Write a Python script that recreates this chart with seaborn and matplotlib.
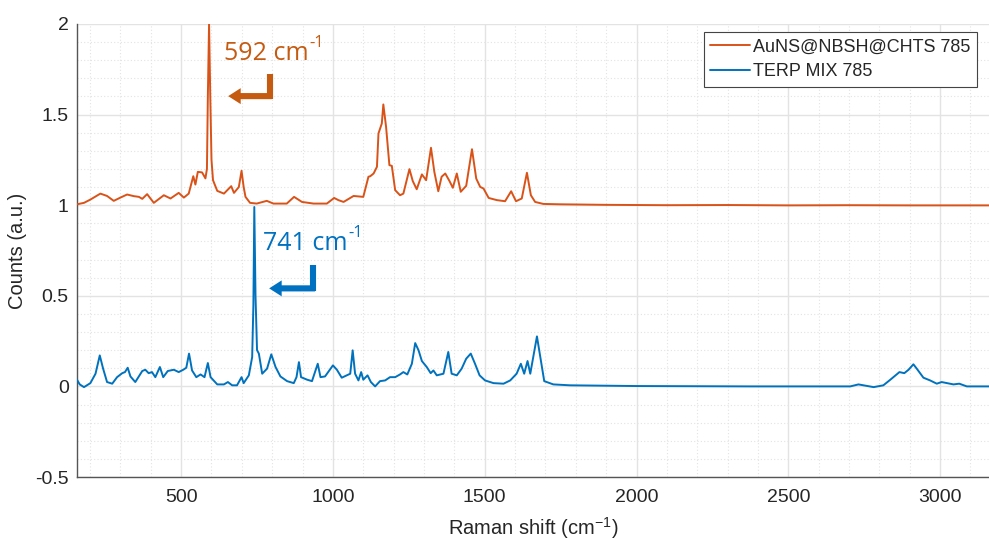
import matplotlib
matplotlib.use("Agg")
import matplotlib.pyplot as plt
from matplotlib.patches import FancyArrowPatch, ArrowStyle
from matplotlib.ticker import MultipleLocator
import seaborn as sns
import pandas as pd

# ---------------- data ----------------
aun_shift = [157, 180, 201, 234, 256, 278, 300, 322, 344, 361, 372, 388, 410, 443, 465,
             492, 509, 525, 540, 547, 555, 569, 580, 585, 588, 592, 596, 600, 605, 619,
             641, 665, 674, 690, 699, 706, 712, 727, 749, 782, 804, 848, 872, 898, 936,
             980, 1004, 1018, 1035, 1068, 1100, 1117, 1123, 1134, 1145, 1150, 1161, 1166,
             1175, 1186, 1194, 1205, 1221, 1232, 1252, 1263, 1276, 1293, 1307, 1323, 1334,
             1347, 1358, 1370, 1384, 1395, 1408, 1421, 1439, 1458, 1472, 1485, 1496, 1513,
             1540, 1567, 1587, 1603, 1622, 1639, 1652, 1666, 1693, 1748, 1900, 2100, 2300,
             2500, 2700, 2900, 3161]
aun_counts = [1.005, 1.013, 1.031, 1.064, 1.051, 1.024, 1.042, 1.059, 1.050, 1.046, 1.035,
              1.061, 1.013, 1.055, 1.037, 1.068, 1.042, 1.064, 1.160, 1.114, 1.184, 1.181,
              1.148, 1.200, 1.600, 2.000, 1.600, 1.250, 1.138, 1.079, 1.064, 1.105, 1.068,
              1.100, 1.190, 1.100, 1.046, 1.013, 1.009, 1.024, 1.009, 1.009, 1.046, 1.018,
              1.009, 1.009, 1.040, 1.028, 1.018, 1.051, 1.046, 1.157, 1.160, 1.175, 1.212,
              1.396, 1.451, 1.556, 1.433, 1.221, 1.217, 1.083, 1.055, 1.064, 1.199, 1.133,
              1.088, 1.170, 1.138, 1.317, 1.184, 1.077, 1.157, 1.175, 1.133, 1.096, 1.175,
              1.074, 1.107, 1.309, 1.147, 1.101, 1.092, 1.040, 1.028, 1.022, 1.077, 1.022,
              1.037, 1.179, 1.055, 1.018, 1.007, 1.005, 1.002, 1.000, 1.001, 0.999, 1.000,
              0.999, 0.999]

terp_shift = [157, 166, 180, 201, 218, 232, 243, 256, 273, 289, 306, 315, 324, 333, 349,
              372, 382, 393, 404, 415, 430, 441, 456, 476, 492, 507, 517, 526, 536, 550,
              564, 577, 588, 597, 619, 641, 654, 668, 684, 699, 706, 723, 734, 738, 741,
              745, 750, 756, 767, 783, 797, 811, 827, 849, 871, 880, 888, 895, 915, 931,
              950, 959, 974, 1000, 1013, 1029, 1046, 1057, 1065, 1073, 1084, 1093, 1100,
              1114, 1125, 1139, 1155, 1172, 1188, 1205, 1221, 1232, 1245, 1260, 1271, 1282,
              1293, 1309, 1322, 1331, 1342, 1364, 1380, 1391, 1408, 1424, 1439, 1454, 1468,
              1483, 1501, 1529, 1562, 1584, 1605, 1619, 1630, 1641, 1650, 1672, 1683, 1696,
              1726, 1781, 2000, 2374, 2704, 2731, 2781, 2813, 2836, 2866, 2882, 2896, 2912,
              2923, 2945, 2967, 2989, 3005, 3044, 3063, 3088, 3161]
terp_counts = [0.037, 0.011, -0.004, 0.018, 0.070, 0.171, 0.098, 0.024, 0.015, 0.051, 0.073,
               0.079, 0.103, 0.055, 0.024, 0.085, 0.092, 0.073, 0.079, 0.051, 0.107, 0.051,
               0.085, 0.092, 0.079, 0.092, 0.103, 0.181, 0.088, 0.051, 0.066, 0.051, 0.129,
               0.051, 0.011, 0.011, 0.024, 0.006, 0.006, 0.051, 0.018, 0.061, 0.162, 0.450,
               0.990, 0.500, 0.200, 0.181, 0.070, 0.098, 0.177, 0.107, 0.055, 0.029, 0.018,
               0.051, 0.134, 0.051, 0.037, 0.029, 0.125, 0.051, 0.055, 0.116, 0.092, 0.048,
               0.061, 0.070, 0.199, 0.070, 0.033, 0.079, 0.037, 0.061, 0.024, 0.000, 0.029,
               0.033, 0.051, 0.051, 0.066, 0.079, 0.066, 0.125, 0.239, 0.199, 0.140, 0.107,
               0.073, 0.088, 0.061, 0.070, 0.190, 0.070, 0.061, 0.098, 0.153, 0.181, 0.125,
               0.061, 0.033, 0.018, 0.015, 0.033, 0.070, 0.125, 0.070, 0.140, 0.070, 0.276,
               0.162, 0.029, 0.011, 0.006, 0.002, 0.000, 0.000, 0.011, -0.004, 0.006, 0.037,
               0.079, 0.073, 0.092, 0.122, 0.098, 0.048, 0.033, 0.015, 0.024, 0.011, 0.015,
               0.000, 0.000]

series_names = ["AuNS@NBSH@CHTS 785", "TERP MIX 785"]
line_colors = ["#D95319", "#0072BD"]
x_ticks = [500, 1000, 1500, 2000, 2500, 3000]
y_ticks = [-0.5, 0, 0.5, 1, 1.5, 2]
y_tick_labels = ["-0.5", "0", "0.5", "1", "1.5", "2"]

# ---------------- style ----------------
sns.set_style("white")
plt.rcParams["font.family"] = ["Liberation Sans", "DejaVu Sans"]
plt.rcParams["mathtext.default"] = "regular"

fig = plt.figure(figsize=(9.89, 5.39), dpi=100)
ax = fig.add_axes([77 / 989, 62 / 539, 912 / 989, 453 / 539])

df_aun = pd.DataFrame({"shift": aun_shift, "counts": aun_counts})
df_terp = pd.DataFrame({"shift": terp_shift, "counts": terp_counts})
sns.lineplot(data=df_aun, x="shift", y="counts", ax=ax, color=line_colors[0],
             lw=1.4, sort=False, label=series_names[0], zorder=3)
sns.lineplot(data=df_terp, x="shift", y="counts", ax=ax, color=line_colors[1],
             lw=1.4, sort=False, label=series_names[1], zorder=3)

ax.set_xlim(157, 3161)
ax.set_ylim(-0.5, 2)
ax.set_xticks(x_ticks)
ax.set_xticklabels([str(t) for t in x_ticks])
ax.set_yticks(y_ticks)
ax.set_yticklabels(y_tick_labels)
ax.xaxis.set_minor_locator(MultipleLocator(100))
ax.yaxis.set_minor_locator(MultipleLocator(0.1))

ax.grid(True, which="major", color="#e3e3e3", lw=1.0, zorder=0)
ax.grid(True, which="minor", color="#e3e3e3", lw=0.8, ls=(0, (1, 2)), zorder=0)
ax.set_axisbelow(True)

for s in ["top", "right"]:
    ax.spines[s].set_visible(False)
for s in ["left", "bottom"]:
    ax.spines[s].set_color("#555555")
    ax.spines[s].set_linewidth(1.0)

ax.tick_params(axis="both", which="major", direction="in", length=6, width=0.8,
               color="#555555", labelsize=14, labelcolor="#262626")
ax.tick_params(axis="x", which="major", pad=9)
ax.tick_params(axis="y", which="major", pad=6)
ax.tick_params(which="minor", length=0)

ax.set_xlabel("Raman shift (cm$^{-1}$)", fontsize=14.5, color="#262626", labelpad=6)
ax.set_ylabel("Counts (a.u.)", fontsize=14.5, color="#262626", labelpad=6)

leg = ax.legend(loc="upper right",
                bbox_to_anchor=((977 - 77) / 912, (477 - 32) / 453),
                fontsize=13, frameon=True, fancybox=False, edgecolor="#444444",
                framealpha=1, handlelength=2.2, handletextpad=0.2, borderpad=0.35,
                labelspacing=0.45, borderaxespad=0)
leg.get_frame().set_linewidth(0.8)

# ---------------- annotations ----------------
annot_font = ["Open Sans", "DejaVu Sans"]
ann_orange = "#C55A11"
ann_blue = "#0070C0"

def peak_label(x, y, num, color):
    t = ax.text(x, y, f"{num} cm", color=color, fontsize=18, family=annot_font,
                ha="left", va="baseline", zorder=5)
    ax.annotate("-1", xy=(1.0, 0.92), xycoords=t, xytext=(0.3, 0),
                textcoords="offset points", color=color, fontsize=12,
                family=annot_font, ha="left", va="center", zorder=5)

peak_label(642, 1.80, 592, ann_orange)
peak_label(770, 0.751, 741, ann_blue)

def bent_arrow(xv, ytop, ybot, yh, xtip, color):
    ax.plot([xv, xv], [ytop, ybot], color=color, lw=4.4, solid_capstyle="butt", zorder=5)
    arr = FancyArrowPatch(posA=(xv + 6, yh), posB=(xtip, yh),
                          arrowstyle=ArrowStyle.Simple(head_length=9, head_width=11.5,
                                                       tail_width=4.4),
                          mutation_scale=1, color=color, shrinkA=0, shrinkB=0,
                          lw=0, zorder=5)
    ax.add_patch(arr)

bent_arrow(793, 1.724, 1.586, 1.602, 655, ann_orange)
bent_arrow(935, 0.669, 0.525, 0.541, 790, ann_blue)

fig.savefig("out.png", dpi=100)
